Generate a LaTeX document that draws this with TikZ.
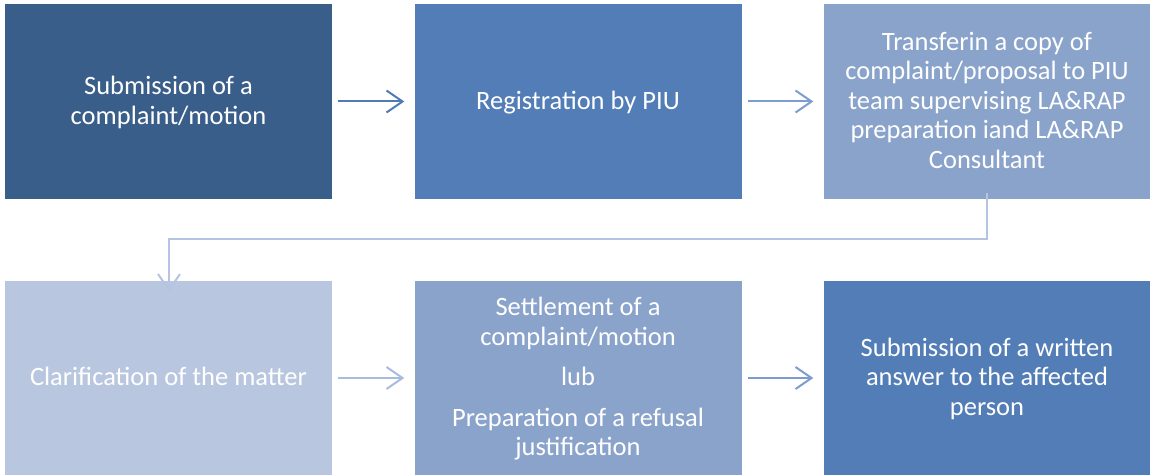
\documentclass[tikz,border=0pt]{standalone}
\usepackage{fontspec}
\setmainfont{Carlito}
\usetikzlibrary{arrows.meta}
\definecolor{cA}{HTML}{3A5E8A}
\definecolor{cB}{HTML}{527DB6}
\definecolor{cC}{HTML}{8AA3CB}
\definecolor{cD}{HTML}{B9C6DF}
\definecolor{aA}{HTML}{4F7AB5}
\definecolor{aB}{HTML}{7C9DCD}
\definecolor{aC}{HTML}{A9BCE0}
\definecolor{aD}{HTML}{B4C4E2}
\tikzset{
  box/.style={draw=none, inner sep=0pt, minimum width=327pt, minimum height=194pt, align=center, text=white, font=\fontsize{26.5}{29.5}\selectfont, text depth=2.5pt},
  conn/.style={line width=2pt, -{Straight Barb[length=16pt,width=22pt,line width=2pt]}},
}
\begin{document}
\begin{tikzpicture}[x=1pt,y=-1pt]
\useasboundingbox (0,0) rectangle (1150,476);
\node[box, fill=cA] (b1) at (168.5,101.5) {Submission of a\\complaint/motion};
\node[box, fill=cB] (b2) at (578,101.5) {Registration by PIU};
\node[box, fill=cC] (b3) at (987,101.5) {Transferin a copy of\\complaint/proposal to PIU\\team supervising LA\&RAP\\preparation iand LA\&RAP\\Consultant};
\node[box, fill=cD] (b4) at (168.5,378) {Clarification of the matter};
\node[box, fill=cC] (b5) at (578,378) {Settlement of a\\complaint/motion\\[11pt]lub\\[11pt]Preparation of a refusal\\justification};
\node[box, fill=cB] (b6) at (987,378) {Submission of a written\\answer to the affected\\person};
\coordinate (c1) at (987,239);
\coordinate (c2) at (169,239);
\draw[conn, draw=aA] ([xshift=6pt]b1.east) -- ([xshift=-10pt]b2.west);
\draw[conn, draw=aB] ([xshift=6pt]b2.east) -- ([xshift=-10pt]b3.west);
\draw[conn, draw=aC] ([xshift=6pt]b4.east) -- ([xshift=-10pt]b5.west);
\draw[conn, draw=aB] ([xshift=6pt]b5.east) -- ([xshift=-10pt]b6.west);
\draw[conn, draw=aD] ([yshift=6pt]b3.south) -- (c1) -- (c2) -- ([yshift=-11pt]c2 |- b4.north);
\end{tikzpicture}
\end{document}
